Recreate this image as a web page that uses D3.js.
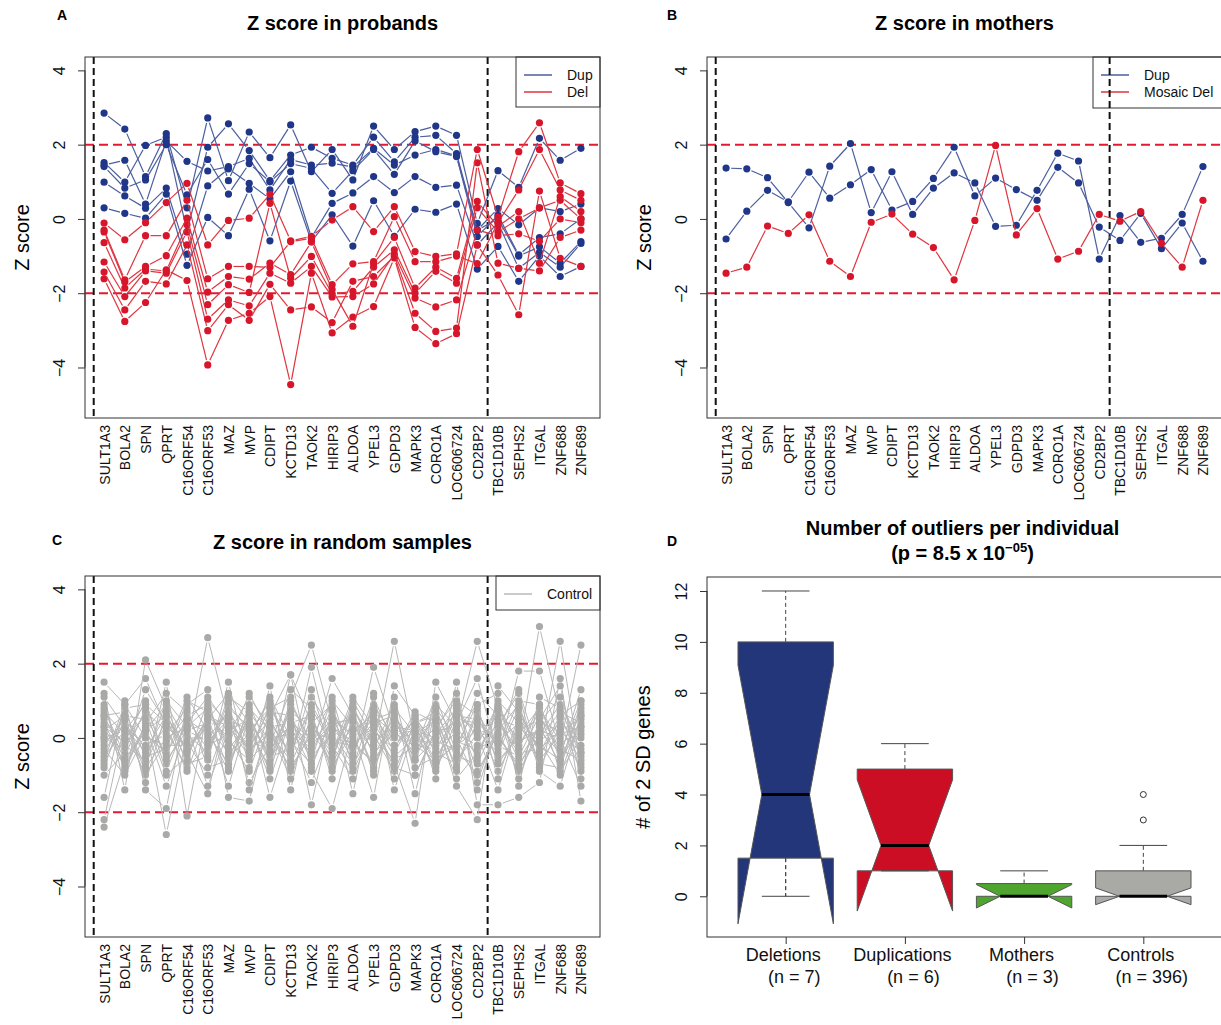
<!DOCTYPE html>
<html>
<head>
<meta charset="utf-8">
<script src="https://cdn.jsdelivr.net/npm/d3@7"></script>
<style>
  body { margin: 0; background: #fff; }
  svg { font-family: "Liberation Sans", Arial, Helvetica, sans-serif; }
</style>
</head>
<body>
<svg id="fig" width="1221" height="1025"></svg>
<script>
// genes along the region, in order
const genes = ['SULT1A3', 'BOLA2', 'SPN', 'QPRT', 'C16ORF54', 'C16ORF53', 'MAZ', 'MVP', 'CDIPT', 'KCTD13',
  'TAOK2', 'HIRIP3', 'ALDOA', 'YPEL3', 'GDPD3', 'MAPK3', 'CORO1A', 'LOC606724', 'CD2BP2', 'TBC1D10B',
  'SEPHS2', 'ITGAL', 'ZNF688', 'ZNF689'];

// panel A: duplication probands (6)
const dupProbands = [
  [2.85, 2.42, 1.14, 2.30, 0.30, 2.72, 1.03, 2.34, 1.65, 2.53, 1.27, 1.87, 1.05, 2.50, 1.87, 2.35, 2.50, 2.25, -0.12, 1.30, 0.85, 2.17, 1.58, 1.90],
  [1.52, 0.99, 1.98, 2.20, -0.35, 1.93, 2.56, 1.84, 1.03, 1.72, 1.93, 1.63, 1.45, 2.20, 1.54, 2.20, 2.25, 1.76, -0.30, 0.28, -0.16, 0.30, 0.20, 0.40],
  [1.45, 1.58, 0.40, 2.10, 1.55, 1.29, 1.41, 1.63, 0.78, 1.60, 1.45, 1.50, 1.40, 1.90, 1.45, 1.72, 1.87, 1.70, -0.47, 0.10, -0.97, -0.50, -0.40, 0.00],
  [1.41, 0.83, 1.05, 2.00, 0.65, 1.60, 0.67, 1.49, 1.00, 1.49, 1.36, 0.69, 1.30, 1.87, 1.20, 2.10, 1.81, 1.68, -0.30, 0.00, -1.00, -0.75, -1.19, -0.61],
  [0.99, 0.62, 0.29, 0.83, -0.95, 0.89, 1.35, 0.96, 0.54, 1.27, -0.50, 0.42, 0.70, 1.14, 0.71, 1.14, 0.85, 0.91, -0.70, -0.10, -1.33, -0.90, -1.30, -0.66],
  [0.30, 0.15, 0.02, 0.67, -1.25, 0.04, -0.45, 0.80, -0.59, 1.02, -0.61, 0.11, -0.73, 0.49, -0.47, 0.26, 0.18, 0.40, -1.35, -0.74, -1.68, -1.00, -1.55, -1.28]
];
// panel A: deletion probands (7)
const delProbands = [
  [-1.61, -2.76, -2.25, -1.37, -1.66, -3.93, -2.73, -2.54, -2.09, -4.46, -1.46, -3.07, -2.64, -2.36, -1.05, -2.92, -3.36, -3.09, -0.70, -1.51, -2.58, 0.75, -1.06, -1.28],
  [-1.43, -2.45, -1.68, -1.75, -0.70, -3.01, -2.31, -2.73, -1.76, -2.45, -2.37, -2.79, -1.68, -1.55, -1.00, -2.54, -3.03, -2.94, 1.51, -1.19, -1.33, -1.40, -0.50, -0.30],
  [-1.16, -2.09, -1.40, -1.46, -0.34, -2.70, -2.18, -2.34, -1.46, -1.73, -1.28, -2.10, -2.09, -1.75, -0.95, -2.13, -2.37, -2.18, -0.30, -0.45, -0.40, -0.60, 0.00, -0.10],
  [-0.64, -1.86, -1.35, -1.40, -0.16, -2.31, -1.77, -1.98, 0.42, -1.60, -1.01, -2.02, -1.95, -1.30, -0.83, -2.00, -1.41, -1.73, 0.30, -0.35, 0.00, 0.30, 0.50, 0.00],
  [-0.35, -1.70, -1.28, -0.99, 0.02, -1.97, -1.55, -1.62, -1.19, -1.50, -0.62, -1.90, -2.89, -1.20, -0.50, -1.86, -1.30, -1.60, 0.47, -0.20, 0.20, -1.19, 0.60, 0.20],
  [-0.30, -1.64, -0.45, -0.45, 0.50, -1.61, -1.28, -1.28, -1.30, -0.61, -0.52, -1.77, -1.21, -1.15, 0.06, -1.15, -1.15, -1.00, -1.20, -0.10, 0.78, 1.87, 0.78, 0.50],
  [-0.11, -0.56, -0.10, 0.44, 0.96, -0.70, -0.04, 0.02, 0.66, -0.59, -0.47, -0.03, 0.33, -0.34, 0.33, -0.88, -1.01, -0.94, 1.87, 0.05, 1.81, 2.59, 0.97, 0.68]
];

// panel B: mothers
const dupMothers = [
  [1.37, 1.35, 1.11, 0.44, -0.24, 1.42, 2.03, 0.17, 1.27, 0.12, 0.83, 1.24, 0.97, -0.20, -0.17, 0.77, 1.77, 1.56, -1.08, 0.09, -0.63, -0.52, 0.12, 1.41],
  [-0.54, 0.21, 0.77, 0.46, 1.26, 0.56, 0.92, 1.33, 0.24, 0.47, 1.09, 1.93, 0.62, 1.10, 0.79, 0.50, 1.39, 0.97, -0.22, -0.58, 0.15, -0.80, -0.11, -1.14]
];
const mosaicDelMothers = [
  [-1.46, -1.30, -0.19, -0.39, 0.11, -1.14, -1.55, -0.09, 0.13, -0.41, -0.77, -1.64, -0.04, 1.98, -0.43, 0.28, -1.08, -0.87, 0.12, -0.06, 0.20, -0.66, -1.30, 0.50]
];

// panel C: random control samples
const controlSamples = [
  [1.5, 0.9, 1.6, 0.3, -0.2, 2.7, 0.5, -0.3, 0.8, 1.1, 2.5, 0.4, -0.6, 1.9, 0.2, -0.5, 0.9, 0.3, 2.6, 0.8, -0.3, 3.0, 0.6, 1.0],
  [-2.4, -0.6, 0.3, -2.6, 0.1, -0.4, 1.1, 0.7, -1.6, 0.2, -0.3, 1.6, 0.6, -0.2, 2.6, -0.1, 0.5, -1.3, -2.2, 1.4, 0.7, -0.4, 2.6, -0.8],
  [-2.2, 0.4, -0.9, 1.5, -2.1, 0.8, -0.2, 1.2, 0.1, -0.6, 1.9, -0.4, 1.1, 0.3, -0.7, -2.3, 1.5, 0.4, 1.6, -0.5, 1.8, 1.8, -0.2, 2.5],
  [-1.6, 1.0, -1.4, -1.9, 0.9, 1.3, -1.6, -1.7, 0.6, 1.7, -0.9, -1.9, 0.2, -1.6, 1.4, 0.6, -1.1, 1.5, -1.8, -1.8, -1.6, -1.2, 1.6, -1.7],
  [1.2, -1.4, 2.1, 0.8, -0.4, -1.5, 0.9, 0.2, -0.8, 1.7, 0.4, 0.9, -1.5, 1.2, -1.4, 0.3, -0.6, -0.2, 0.9, 1.2, -1.3, 1.1, 0.8, -0.5],
  [0.9, -0.9, 0.4, 1.2, 0.7, -0.6, 1.5, -0.8, 1.4, -1.4, 1.1, 0.2, 0.7, -1.0, 1.1, -1.0, 0.2, 1.2, -1.4, 0.3, 1.2, -0.9, -1.3, 0.6],
  [0.6, 0.7, -0.5, -0.3, 1.1, 0.2, -0.9, 0.9, -0.4, 0.8, -1.8, 0.7, -0.3, 0.6, -0.2, 0.5, -0.4, -0.7, 0.4, -0.9, 0.2, 0.5, 1.4, -1.1],
  [0.3, -0.1, 1.0, -0.7, 0.4, 1.1, 0.3, -0.5, 0.9, -0.2, 0.7, -1.1, 0.9, -0.5, 0.6, -0.3, 1.1, -0.4, 1.2, 0.6, -0.6, 0.3, -0.7, 0.9],
  [-0.2, 0.5, -0.3, 0.6, -0.3, 0.5, 1.2, 0.4, -1.1, 0.5, -0.6, 1.1, -0.8, 0.9, 0.0, 0.1, -0.8, 0.9, -0.6, 1.0, 0.4, -0.6, 0.1, 0.3],
  [0.0, -0.3, 0.7, 0.2, -0.8, -0.2, 0.1, 1.1, 0.3, -0.9, 0.2, -0.7, 0.4, 0.1, -0.9, 0.4, 0.6, -0.9, 0.7, -0.3, 1.0, 0.9, -0.5, 1.3],
  [-0.5, 0.2, -1.0, -0.1, 0.6, 0.9, -0.5, 0.0, 1.1, 0.0, -1.2, 0.3, -0.1, -0.7, 0.5, -0.6, 0.0, 0.7, -0.9, 0.1, -0.9, 0.1, 0.9, -0.2],
  [0.4, -0.7, 0.2, 0.9, -0.1, -1.0, 0.6, -1.2, -0.2, 1.3, 0.8, -0.2, -1.1, 0.4, -0.5, 0.0, -0.2, 0.1, -0.2, 0.9, -0.2, 0.7, -0.9, 0.0],
  [-0.8, 0.8, 0.9, -0.6, 0.2, 0.4, -1.3, 0.6, -0.6, 0.4, 0.0, 1.0, 0.3, -0.3, 0.9, -1.5, 0.8, -0.6, 0.1, -1.4, 0.5, -0.1, 0.4, -0.9],
  [0.7, 0.1, -0.7, 0.5, -0.6, 1.0, 0.4, -0.2, 0.5, -0.5, 1.3, -0.5, 0.8, -0.1, 0.3, 0.2, -0.9, 0.5, 0.3, 0.4, -0.4, -0.3, 0.2, 0.5],
  [-0.3, -1.0, 0.1, -0.4, 0.5, -0.3, 0.8, 0.3, -0.9, 0.9, -0.1, 0.5, -0.4, 0.8, -1.1, 0.5, -0.1, -0.3, -1.0, 0.2, 0.9, -0.7, -0.8, 0.8],
  [1.1, 0.3, -0.2, 0.1, 0.8, -0.8, -0.6, 0.8, 0.2, -1.1, 0.6, -0.9, 0.5, -0.8, 0.4, -0.3, 0.3, 1.0, 0.6, -0.6, 0.0, 0.2, 0.0, -1.3],
  [0.2, 0.6, 0.5, -1.0, -0.5, 0.6, 0.0, -0.9, 0.7, 0.6, -0.5, 0.1, -0.7, 0.2, -0.3, 0.7, 0.4, -1.1, -0.4, 0.7, -1.1, 0.4, 1.1, -0.4],
  [-1.0, -0.4, 1.3, 0.4, 0.0, 0.0, 0.7, -0.1, -0.3, 0.3, -0.8, 0.6, 0.0, 0.5, 0.7, -0.8, -0.5, 0.2, 0.9, -1.1, 0.6, -0.8, 0.3, 0.2],
  [0.5, -0.2, -0.6, 1.0, 0.3, -1.3, 0.2, 0.5, -0.5, -0.3, 0.3, -0.3, 0.6, -0.4, 0.1, 0.4, 0.7, -0.5, -0.7, 0.5, 0.3, -0.2, -0.6, 0.7],
  [-0.6, 0.9, 0.0, -0.2, -0.2, 0.3, -0.4, 0.1, 1.0, -0.7, 0.5, -0.6, 1.0, 0.0, -0.6, -0.2, -0.3, 0.6, 0.5, -0.2, -0.5, 0.6, -0.3, -0.6],
  [0.1, 0.0, 0.6, -0.5, 1.0, 0.7, -0.1, -0.6, 0.0, 0.1, -0.4, 0.8, -0.5, 1.1, -0.2, 0.3, -0.7, -0.1, -0.3, 0.0, -0.7, 0.0, 0.7, 0.4],
  [-0.4, 0.6, -1.2, 0.7, -0.7, -0.5, 1.0, -1.4, 0.4, -0.4, 0.9, -0.1, -0.2, -0.6, 0.2, -0.4, 0.1, 0.8, 0.0, 0.3, 1.3, -0.5, 0.5, -0.3],
  [0.8, -0.5, 0.8, -0.9, 0.5, 0.1, -0.7, 0.6, -0.7, 1.0, -0.2, 0.4, 0.5, -0.9, 0.8, 0.1, 0.5, -0.8, 0.8, -0.7, 0.1, 0.8, -0.1, 0.1],
  [-0.1, 0.3, -0.4, 0.3, -0.9, 0.6, 0.3, -0.3, 0.1, -0.8, 0.1, 0.0, -0.9, 0.3, -0.8, -1.0, 0.2, 0.3, -0.5, 0.8, -0.1, 0.2, -0.4, 1.0],
  [0.3, -0.8, 0.3, -1.3, 0.2, -0.1, 0.5, 0.2, 0.8, -0.1, -0.7, 0.5, 0.1, 0.7, -0.4, 0.6, -0.4, -0.2, 0.2, -0.4, 0.8, -0.4, 0.6, -0.7],
  [-0.7, 0.5, -0.8, 0.0, 0.3, 0.8, -0.3, 0.4, -0.4, 0.7, 0.3, -0.4, 0.8, -0.2, 0.5, -0.6, 0.8, 0.0, -1.2, 0.4, -0.3, 0.9, -0.6, 0.3],
  [0.0, 0.2, 0.9, 0.4, -0.3, 0.3, 0.6, -0.4, 0.3, 0.4, 0.6, -0.8, 0.2, 0.6, 0.1, 0.2, 0.0, 0.5, 0.4, -0.1, 0.4, -0.1, -1.0, 0.6],
  [0.6, -0.6, 0.2, 0.6, -0.4, 0.5, -0.8, 0.7, -0.1, 0.3, -0.1, 0.2, -0.2, 0.4, 0.6, -0.2, -0.6, 0.6, 0.2, 0.1, -0.8, 0.4, 0.2, -0.4]
];

// panel D: boxplot stats, number of 2 SD genes
const boxGroups = ['Deletions', 'Duplications', 'Mothers', 'Controls'];
const boxN = [7, 6, 3, 396];
const boxLow = [0, 1, 0, 0];
const boxQ1 = [1.5, 1, 0, 0];
const boxMedian = [4, 2, 0, 0];
const boxQ3 = [10, 5, 0.5, 1];
const boxHigh = [12, 6, 1, 2];
const notchLow = [-1.08, -0.58, -0.46, -0.33];
const notchHigh = [9.08, 4.58, 0.46, 0.33];
const boxOutliers = [[], [], [], [3, 4]];

const BLUE = '#1f3689', BLUE_LINE = '#4a5d9f';
const RED = '#d7152b', RED_LINE = '#e0343f';
const GREY = '#a9aaa7', GREY_LINE = '#b8b8b8';
const boxFill = ['#24367a', '#cc0e24', '#4fa62f', '#a9aaa6'];

const svg = d3.select('#fig');

// 线段留空 (R type = "b")
function gapped(vals, x, y, gap) {
  const segs = [];
  for (let i = 0; i < vals.length - 1; i++) {
    const x1 = x(i + 1), y1 = y(vals[i]), x2 = x(i + 2), y2 = y(vals[i + 1]);
    const len = Math.hypot(x2 - x1, y2 - y1);
    if (len <= 2 * gap) continue;
    const ux = (x2 - x1) / len, uy = (y2 - y1) / len;
    segs.push([x1 + ux * gap, y1 + uy * gap, x2 - ux * gap, y2 - uy * gap]);
  }
  return segs;
}

function rotateLeftLabels(g) {
  g.selectAll('.tick text')
    .attr('x', null).attr('dy', null)
    .attr('text-anchor', 'middle')
    .attr('transform', 'translate(-20,0) rotate(-90)');
}

function zPanel(o) {
  const W = 515, H = 361;
  const x = d3.scaleLinear().domain([0.08, 24.92]).range([o.left, o.left + W]);
  const y = d3.scaleLinear().domain([-5.36, 4.36]).range([o.top + H, o.top]);
  const g = svg.append('g');

  // letter + title
  g.append('text').attr('x', o.letterX).attr('y', o.letterY)
    .attr('font-size', 14).attr('font-weight', 'bold').text(o.letter);
  g.append('text').attr('x', o.left + W / 2).attr('y', o.top - 27)
    .attr('text-anchor', 'middle').attr('font-size', 20).attr('font-weight', 'bold').text(o.title);

  // y axis
  const ya = g.append('g').attr('transform', `translate(${o.left},0)`)
    .call(d3.axisLeft(y).tickValues([-4, -2, 0, 2, 4]).tickFormat(d => d < 0 ? '\u2212' + (-d) : d)
      .tickSize(7).tickSizeOuter(0).tickPadding(3));
  ya.select('.domain').attr('d', `M0,${y(-4)}V${y(4)}`).attr('stroke', '#333');
  ya.selectAll('.tick line').attr('stroke', '#333');
  ya.selectAll('.tick text').attr('font-size', 16).attr('fill', '#111');
  rotateLeftLabels(ya);
  g.append('text').attr('transform', `translate(${o.left - 63},${o.top + H / 2}) rotate(-90)`)
    .attr('text-anchor', 'middle').attr('font-size', 20).attr('dy', '0.35em').text('Z score');

  // gene labels
  const xa = g.append('g').attr('transform', `translate(0,${o.top + H})`)
    .call(d3.axisBottom(x).tickValues(d3.range(1, 25)).tickFormat(i => genes[i - 1]).tickSize(0));
  xa.select('.domain').remove();
  xa.selectAll('.tick text').attr('font-size', 14).attr('fill', '#111')
    .attr('text-anchor', 'end').attr('y', 0).attr('dy', null)
    .attr('transform', 'translate(5,7) rotate(-90)');

  // reference lines
  const ref = g.append('g');
  [-2, 2].forEach(v => ref.append('line')
    .attr('x1', o.left).attr('x2', o.left + W).attr('y1', y(v)).attr('y2', y(v))
    .attr('stroke', '#e3192f').attr('stroke-width', 2).attr('stroke-dasharray', '9,5'));
  [0.5, 19.5].forEach(v => ref.append('line')
    .attr('x1', x(v)).attr('x2', x(v)).attr('y1', o.top).attr('y2', o.top + H)
    .attr('stroke', '#111').attr('stroke-width', 2).attr('stroke-dasharray', '7,4'));

  // series
  const dg = g.append('g');
  o.series.forEach(s => {
    s.data.forEach(vals => {
      dg.append('g').selectAll('line').data(gapped(vals, x, y, 5)).join('line')
        .attr('x1', d => d[0]).attr('y1', d => d[1]).attr('x2', d => d[2]).attr('y2', d => d[3])
        .attr('stroke', s.line).attr('stroke-width', s.lw || 1.2);
      dg.append('g').selectAll('circle').data(vals).join('circle')
        .attr('cx', (d, i) => x(i + 1)).attr('cy', d => y(d)).attr('r', 3.6).attr('fill', s.color);
    });
  });

  // legend
  const lg = g.append('g');
  const lw = o.legend.width, lx = o.left + W - lw;
  lg.append('rect').attr('x', lx).attr('y', o.top).attr('width', lw).attr('height', o.legend.height)
    .attr('fill', '#fff').attr('stroke', '#333');
  o.legend.items.forEach((it, i) => {
    const ly = o.top + 18 + i * 17;
    lg.append('line').attr('x1', lx + 8).attr('x2', lx + 36).attr('y1', ly).attr('y2', ly)
      .attr('stroke', it.color).attr('stroke-width', 1.5);
    lg.append('text').attr('x', lx + 51).attr('y', ly).attr('dy', '0.35em')
      .attr('font-size', 14).attr('fill', '#111').text(it.label);
  });

  // frame
  g.append('rect').attr('x', o.left).attr('y', o.top).attr('width', W).attr('height', H)
    .attr('fill', 'none').attr('stroke', '#333');

  if (o.after) o.after(g, x, y);
}

zPanel({
  left: 85, top: 57, letter: 'A', letterX: 57, letterY: 20, title: 'Z score in probands',
  series: [{ data: dupProbands, color: BLUE, line: BLUE_LINE }, { data: delProbands, color: RED, line: RED_LINE }],
  legend: { width: 84, height: 50, items: [{ label: 'Dup', color: BLUE_LINE }, { label: 'Del', color: RED_LINE }] }
});

zPanel({
  left: 707, top: 57, letter: 'B', letterX: 667, letterY: 20, title: 'Z score in mothers',
  series: [{ data: dupMothers, color: BLUE, line: BLUE_LINE }, { data: mosaicDelMothers, color: RED, line: RED_LINE }],
  legend: { width: 129, height: 51, items: [{ label: 'Dup', color: BLUE_LINE }, { label: 'Mosaic Del', color: RED_LINE }] },
  after: (g, x, y) => {
    // dashed line is drawn over the legend here
    g.append('line').attr('x1', x(19.5)).attr('x2', x(19.5)).attr('y1', 57).attr('y2', 108)
      .attr('stroke', '#111').attr('stroke-width', 2).attr('stroke-dasharray', '7,4');
  }
});

zPanel({
  left: 85, top: 576, letter: 'C', letterX: 52, letterY: 545, title: 'Z score in random samples',
  series: [{ data: controlSamples, color: GREY, line: GREY_LINE, lw: 1 }],
  legend: { width: 104, height: 34, items: [{ label: 'Control', color: GREY_LINE }] }
});

// panel D: notched boxplot
(function () {
  const left = 707, top = 577, W = 515, H = 360;
  const x = d3.scaleLinear().domain([0.34, 4.66]).range([left, left + W]);
  const y = d3.scaleLinear().domain([-1.6, 12.55]).range([top + H, top]);
  const g = svg.append('g');

  g.append('text').attr('x', 667).attr('y', 546).attr('font-size', 14).attr('font-weight', 'bold').text('D');
  const t = g.append('text').attr('x', left + W / 2 - 2).attr('text-anchor', 'middle')
    .attr('font-size', 20).attr('font-weight', 'bold');
  t.append('tspan').attr('x', left + W / 2 - 2).attr('y', 535).text('Number of outliers per individual');
  const t2 = t.append('tspan').attr('x', left + W / 2 - 2).attr('y', 560);
  t2.append('tspan').text('(p = 8.5 x 10');
  t2.append('tspan').attr('dy', -8).attr('font-size', 13).text('\u221205');
  t2.append('tspan').attr('dy', 8).text(')');

  const ya = g.append('g').attr('transform', `translate(${left},0)`)
    .call(d3.axisLeft(y).tickValues(d3.range(0, 13, 2)).tickSize(7).tickSizeOuter(0).tickPadding(3));
  ya.select('.domain').attr('d', `M0,${y(0)}V${y(12)}`).attr('stroke', '#333');
  ya.selectAll('.tick line').attr('stroke', '#333');
  ya.selectAll('.tick text').attr('font-size', 16).attr('fill', '#111');
  rotateLeftLabels(ya);
  g.append('text').attr('transform', `translate(${left - 64},${top + H / 2}) rotate(-90)`)
    .attr('text-anchor', 'middle').attr('font-size', 20).attr('dy', '0.35em').text('# of 2 SD genes');

  const xa = g.append('g').attr('transform', `translate(0,${top + H})`)
    .call(d3.axisBottom(x).tickValues([1, 2, 3, 4]).tickFormat(i => boxGroups[i - 1]).tickSize(7).tickSizeOuter(0));
  xa.select('.domain').remove();
  xa.selectAll('.tick line').attr('stroke', '#333');
  xa.selectAll('.tick text').attr('font-size', 18).attr('fill', '#111').attr('y', 11).attr('dy', '0.71em')
    .attr('x', -3);
  xa.selectAll('.tick').append('text').attr('font-size', 18).attr('fill', '#111')
    .attr('x', 8).attr('y', 33).attr('dy', '0.71em').attr('text-anchor', 'middle')
    .text(i => `(n = ${boxN[i - 1]})`);

  const hw = 0.4, nf = 0.5, sw = 0.2;
  boxGroups.forEach((name, k) => {
    const c = k + 1;
    const pts = [
      [c - hw, boxQ1[k]], [c + hw, boxQ1[k]], [c + hw, notchLow[k]], [c + hw * nf, boxMedian[k]],
      [c + hw, notchHigh[k]], [c + hw, boxQ3[k]], [c - hw, boxQ3[k]], [c - hw, notchHigh[k]],
      [c - hw * nf, boxMedian[k]], [c - hw, notchLow[k]]
    ];
    // whiskers
    [[boxQ3[k], boxHigh[k]], [boxQ1[k], boxLow[k]]].forEach(([a, b]) => {
      if (a === b) return;
      g.append('line').attr('x1', x(c)).attr('x2', x(c)).attr('y1', y(a)).attr('y2', y(b))
        .attr('stroke', '#444').attr('stroke-dasharray', '4,3');
    });
    g.append('path').attr('d', d3.line().x(d => x(d[0])).y(d => y(d[1]))(pts) + 'Z')
      .attr('fill', boxFill[k]).attr('stroke', '#555').attr('stroke-width', 1);
    // lower whisker drawn over the white gap (deletions)
    if (boxQ1[k] !== boxLow[k]) {
      g.append('line').attr('x1', x(c)).attr('x2', x(c)).attr('y1', y(boxQ1[k])).attr('y2', y(boxLow[k]))
        .attr('stroke', '#444').attr('stroke-dasharray', '4,3');
    }
    [boxHigh[k], boxLow[k]].forEach(v => g.append('line')
      .attr('x1', x(c - sw)).attr('x2', x(c + sw)).attr('y1', y(v)).attr('y2', y(v))
      .attr('stroke', '#444'));
    g.append('line').attr('x1', x(c - hw * nf)).attr('x2', x(c + hw * nf))
      .attr('y1', y(boxMedian[k])).attr('y2', y(boxMedian[k]))
      .attr('stroke', '#000').attr('stroke-width', 3);
    boxOutliers[k].forEach(v => g.append('circle').attr('cx', x(c)).attr('cy', y(v)).attr('r', 3)
      .attr('fill', 'none').attr('stroke', '#333'));
  });

  g.append('rect').attr('x', left).attr('y', top).attr('width', W).attr('height', H)
    .attr('fill', 'none').attr('stroke', '#333');
})();
</script>
</body>
</html>
